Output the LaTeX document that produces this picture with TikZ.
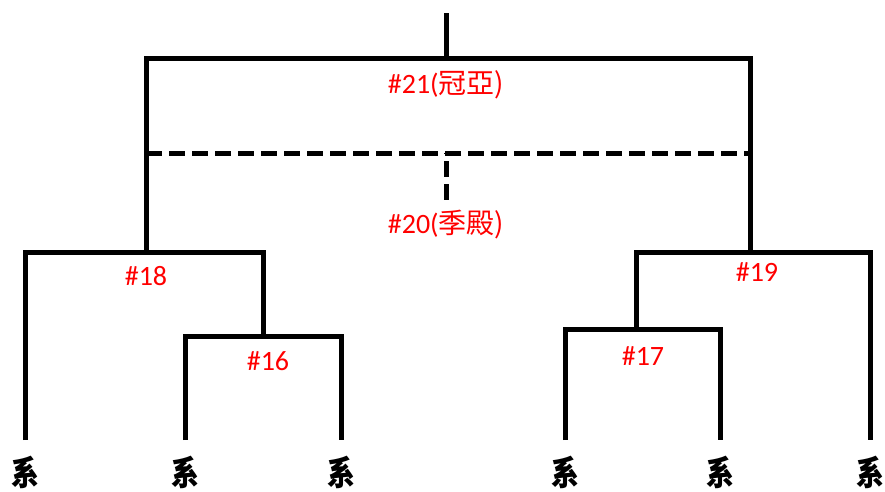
\documentclass[tikz,border=0pt]{standalone}
\usepackage{fontspec}
\setmainfont{Carlito}
\newfontfamily\cjk{Noto Sans CJK TC}
\begin{document}
\begin{tikzpicture}[x=1pt,y=-1pt,
  br/.style={line width=5pt, line join=miter},
  dsh/.style={line width=5pt, dash pattern=on 16pt off 7pt},
  lbl/.style={text=red, inner sep=0pt, font=\fontsize{28}{30}\selectfont},
  leaf/.style={inner sep=0pt, xscale=0.82, font=\cjk\bfseries\fontsize{34}{36}\selectfont}]
\useasboundingbox (0,0) rectangle (885,491);
% coordinates
\coordinate (s21) at (446,13);
\coordinate (t21) at (446,58);
\coordinate (c18) at (146,252);
\coordinate (c19) at (750,252);
\coordinate (c16) at (263,336);
\coordinate (c17) at (636,329);
\coordinate (a1) at (25,440);
\coordinate (a2) at (185,440);
\coordinate (a3) at (341,440);
\coordinate (a4) at (565,440);
\coordinate (a5) at (720,440);
\coordinate (a6) at (870,440);
\coordinate (d1) at (146,153);
\coordinate (d2) at (750,153);
\coordinate (d3) at (446,153);
\coordinate (d4) at (446,201);
% brackets
\draw[br] (s21) -- (t21);
\draw[br] (c18) |- (t21) -| (c19);
\draw[br] (a1) |- (c18) -| (c16);
\draw[br] (a2) |- (c16) -| (a3);
\draw[br] (c17) |- (c19) -| (a6);
\draw[br] (a4) |- (c17) -| (a5);
\draw[dsh] (d1) -- (d2);
\draw[dsh, dash phase=-8pt] (d3) -- (d4);
% labels
\node[lbl] (n21) at (446,85) {\#21(\cjk 冠亞)};
\node[lbl] (n20) at (446,225) {\#20(\cjk 季殿)};
\node[lbl] (n18) at (146,276) {\#18};
\node[lbl] (n19) at (757,272) {\#19};
\node[lbl] (n16) at (268,361) {\#16};
\node[lbl] (n17) at (643,356) {\#17};
% leaves
\node[leaf] (l1) at (25,472) {系};
\node[leaf] (l2) at (185,472) {系};
\node[leaf] (l3) at (341,472) {系};
\node[leaf] (l4) at (565,472) {系};
\node[leaf] (l5) at (720,472) {系};
\node[leaf] (l6) at (870,472) {系};
\end{tikzpicture}
\end{document}
